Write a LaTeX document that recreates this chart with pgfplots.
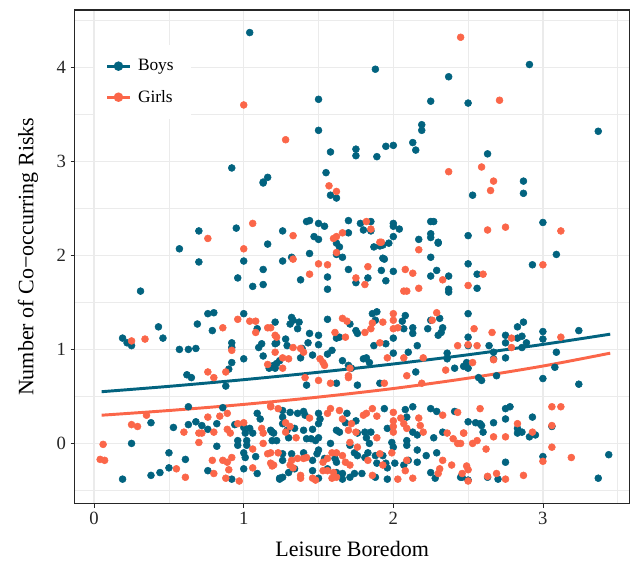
\documentclass[border=0pt]{standalone}
\usepackage{fontspec}
\setmainfont{Liberation Serif}
\usepackage{pgfplots}
\pgfplotsset{compat=1.18}
\definecolor{boys}{HTML}{02637F}
\definecolor{girls}{HTML}{FB6649}
\definecolor{gridc}{HTML}{EBEBEB}

\begin{document}
\begin{tikzpicture}[x=1pt,y=1pt]
\begin{axis}[
    scale only axis,
    width=416pt, height=370pt,
    xmin=-0.13, xmax=3.58,
    ymin=-0.64, ymax=4.61,
    xtick={0,1,2,3}, ytick={0,1,2,3,4},
    minor xtick={0.5,1.5,2.5,3.5},
    minor ytick={-0.5,0.5,1.5,2.5,3.5,4.5},
    grid=both,
    major grid style={gridc, line width=1pt},
    minor grid style={gridc, line width=0.6pt},
    axis line style={black!85, line width=0.8pt},
    tick align=outside, xtick pos=bottom, ytick pos=left,
    major tick length=3pt, minor tick length=0pt,
    tick style={black!85, line width=0.6pt},
    /pgf/number format/assume math mode=true,
    tick label style={font=\fontsize{14}{16}\selectfont, text=black!85},
    label style={font=\fontsize{16.5}{19}\selectfont},
    xlabel={Leisure Boredom},
    ylabel={Number of Co−occurring Risks},
    xlabel style={yshift=-5pt},
    ylabel style={yshift=7pt},
    legend style={at={(0.036,0.93)}, anchor=north west, draw=none, fill=white,
        font=\fontsize{13}{15}\selectfont, row sep=9pt, inner xsep=8pt, inner ysep=9pt,
        nodes={inner xsep=5pt}},
    legend cell align=left,
]
\addlegendimage{boys, line width=2.2pt, mark=*, mark size=2.4pt}
\addlegendentry{Boys}
\addlegendimage{girls, line width=2.2pt, mark=*, mark size=2.4pt}
\addlegendentry{Girls}

% boys
\addplot[only marks, mark=*, mark size=2.6pt, boys, forget plot] coordinates {
(1.04,4.37)(1.88,3.98)(2.91,4.03)(2.37,3.90)(1.50,3.66)(2.25,3.64)(2.50,3.62)(1.50,3.33)(2.19,3.39)(2.19,3.33)
(2.63,3.08)(1.75,3.13)(1.75,3.06)(1.58,3.10)(1.89,3.05)(1.95,3.16)(2.00,3.17)(2.13,3.20)(2.15,3.12)(3.37,3.32)
(0.92,2.93)(1.13,2.78)(1.16,2.83)(1.55,2.88)(1.58,2.64)(1.62,2.61)(2.87,2.79)(2.87,2.66)(2.53,2.64)
(0.57,2.07)(0.70,2.26)(0.70,1.93)(0.95,2.29)(1.00,1.94)(0.96,1.76)(1.06,1.67)(1.13,1.69)(1.13,1.85)(1.16,2.12)
(1.26,2.26)(1.26,1.94)(1.32,1.98)(1.38,1.74)(1.42,2.36)(1.44,2.37)(1.44,2.02)(1.50,2.34)(1.54,2.31)(1.47,2.20)
(1.50,2.17)(1.56,1.77)(1.56,1.64)(1.62,2.13)(1.64,2.09)(1.62,2.01)(1.66,1.98)(1.70,2.37)(1.70,2.24)(1.78,2.34)
(1.80,2.27)(1.85,2.36)(1.85,2.26)(1.70,1.85)(1.75,1.71)(1.83,1.76)(1.87,2.09)(1.91,2.10)(1.94,1.96)(1.92,1.84)
(1.95,1.73)(1.97,2.13)(2.00,2.20)(2.00,2.34)(2.00,2.31)(2.04,2.28)(2.00,1.83)(2.17,2.17)(2.25,2.36)(2.27,2.36)
(2.25,2.23)(2.25,2.19)(2.30,2.13)(2.25,1.98)(2.29,1.84)(2.25,1.78)(2.37,1.78)(2.37,1.64)(2.37,1.61)(2.50,2.21)
(2.50,1.91)(2.56,1.80)(2.56,1.65)(1.13,2.77)(1.93,2.11)(1.93,1.97)(2.93,1.90)(3.09,2.01)(3.00,2.35)(2.30,2.14)
(0.31,1.62)
(0.19,1.12)(0.22,1.07)(0.25,1.04)(0.43,1.24)(0.46,1.12)(0.57,1.00)(0.63,1.00)(0.68,1.01)(0.62,0.73)(0.65,0.70)
(0.76,1.38)(0.80,1.39)(0.69,1.27)(0.79,1.20)(0.92,1.07)(0.92,1.02)(0.92,0.86)(0.90,0.79)(0.88,0.61)(1.00,1.38)
(1.00,0.90)(1.10,1.02)(1.12,1.06)(1.13,0.93)(1.21,1.29)(1.21,1.06)(1.17,0.80)(1.20,0.83)(1.22,0.85)(1.09,1.22)
(1.32,1.34)(1.33,1.31)(1.31,1.27)(1.37,1.29)(1.36,1.22)(1.22,1.07)(1.28,1.11)(1.29,1.04)(1.24,0.88)(1.21,0.80)
(1.39,1.01)(1.38,0.91)(1.44,1.17)(1.50,1.15)(1.43,1.07)(1.50,1.05)(1.46,0.94)(1.56,1.32)(1.59,0.99)(1.56,0.95)
(1.62,1.12)(1.64,1.13)(1.66,0.88)(1.70,0.83)(1.72,0.80)(1.71,1.27)(1.75,1.20)(1.76,1.17)(1.80,0.90)(1.82,0.91)
(1.84,0.86)(1.86,1.38)(1.89,1.40)(1.88,1.31)(1.87,1.04)(1.95,1.06)(2.00,1.12)(2.00,0.96)(2.06,1.30)(2.08,1.36)
(2.07,1.22)(2.13,1.17)(2.13,1.23)(2.10,0.97)(2.15,0.76)(2.23,1.22)(2.25,1.31)(2.31,1.33)(2.33,1.23)(2.30,1.15)
(2.32,1.18)(2.36,0.96)(2.36,0.90)(2.41,0.80)(2.47,0.82)(2.16,1.04)(1.76,0.62)(1.91,0.64)(1.62,0.64)(1.42,0.62)
(2.50,1.38)(2.50,1.13)(2.50,1.04)(2.49,0.86)(2.50,0.80)(2.57,0.70)(2.59,0.67)(2.64,1.04)(2.67,0.97)(2.67,0.90)
(2.69,0.72)(2.75,1.15)(2.75,1.07)(2.75,0.91)(2.83,1.24)(2.87,1.29)(2.83,1.12)(2.86,1.14)(2.86,1.02)(2.89,1.07)
(3.00,1.19)(3.00,1.11)(3.00,0.69)(3.09,0.97)(3.08,0.81)(3.24,1.20)(3.24,0.63)
(0.63,0.39)(0.38,0.22)(0.25,0.00)(0.50,-0.10)(0.61,-0.17)(0.50,-0.26)(0.44,-0.31)(0.38,-0.34)(0.19,-0.38)(0.53,0.17)
(0.63,0.20)(0.68,0.23)(0.72,0.19)(0.76,0.15)(0.82,0.21)(0.86,0.38)(0.82,-0.03)(0.76,-0.29)(0.92,-0.38)(0.94,0.20)
(0.96,0.03)(1.00,0.17)(1.01,0.11)(1.04,0.16)(1.06,0.11)(1.02,0.03)(1.02,-0.02)(1.09,0.32)(1.11,0.26)(1.00,-0.10)
(1.01,-0.15)(1.00,-0.27)(1.08,-0.14)(1.09,-0.32)(1.19,0.12)(1.19,0.03)(1.24,-0.38)(0.96,-0.02)
(1.26,0.35)(1.26,0.28)(1.26,0.21)(1.31,0.33)(1.36,0.32)(1.40,0.34)(1.41,0.30)(1.29,0.14)(1.34,0.16)(1.30,0.06)
(1.20,0.11)(1.22,0.03)(1.40,0.14)(1.46,0.15)(1.42,0.05)(1.45,0.05)(1.50,0.06)(1.48,0.03)(1.50,0.32)(1.51,0.26)
(1.50,0.21)(1.69,0.32)(1.68,0.22)(1.75,0.24)(1.81,0.12)(1.85,0.12)(1.82,0.06)(1.94,0.37)(1.96,0.16)(1.99,0.01)
(2.00,-0.04)(2.08,0.36)(2.09,0.28)(2.13,0.39)(2.13,0.12)(2.16,0.09)(2.09,0.03)(2.09,-0.02)(2.25,0.37)(2.29,0.34)
(2.33,0.12)(2.41,0.34)(2.27,0.06)(1.18,0.14)(1.26,-0.11)(1.32,-0.11)(1.26,-0.18)(1.40,-0.10)(1.49,-0.11)(1.50,-0.07)
(1.46,-0.18)(1.54,-0.16)(1.61,-0.16)(1.62,-0.20)(1.34,-0.27)(1.30,-0.31)(1.26,-0.36)(1.24,-0.37)(1.46,-0.29)(1.50,-0.37)
(1.56,-0.27)(1.62,-0.31)(1.66,-0.38)(1.71,-0.36)(1.74,-0.10)(1.76,-0.13)(1.81,-0.15)(1.83,-0.10)(1.84,0.00)(1.88,-0.13)
(1.89,-0.21)(1.93,-0.13)(1.95,-0.21)(1.96,-0.26)(1.96,-0.38)(1.88,-0.36)(2.07,-0.23)(2.01,-0.21)(2.10,-0.18)(2.16,-0.07)
(2.22,-0.13)(2.29,-0.10)(2.25,-0.31)(2.28,-0.37)(2.16,-0.20)(2.45,-0.36)(2.50,-0.39)(1.74,-0.32)(1.79,-0.32)(1.66,-0.32)
(1.76,0.11)(1.62,0.14)(1.64,0.12)(1.58,0.00)(1.71,-0.02)
(2.50,0.23)(2.55,0.22)(2.58,0.21)(2.60,0.12)(2.59,0.19)(2.67,0.22)(2.75,0.37)(2.78,0.39)(2.75,0.26)(2.83,0.16)
(2.86,0.12)(2.83,0.11)(2.91,0.07)(2.95,0.09)(2.93,0.28)(3.06,0.18)(3.00,-0.14)(2.75,-0.20)(2.63,-0.36)(2.70,-0.38)
(2.46,-0.36)(3.44,-0.12)(3.37,-0.37)
};

% girls
\addplot[only marks, mark=*, mark size=2.6pt, girls, forget plot] coordinates {
(2.45,4.32)(2.71,3.65)(2.37,2.89)(2.59,2.94)(2.67,2.79)(2.65,2.69)(1.00,3.60)(1.28,3.23)(1.57,2.74)(1.62,2.68)
(0.76,2.18)(1.06,2.34)(1.00,2.07)(1.33,2.21)(1.33,1.96)(1.44,1.80)(1.50,1.91)(1.56,1.90)(1.60,2.18)(1.62,2.20)
(1.66,2.24)(1.62,2.03)(1.75,1.76)(1.81,1.69)(1.82,2.36)(1.85,2.28)(1.83,1.88)(1.91,2.14)(2.08,1.85)(2.13,1.81)
(2.07,1.62)(2.09,1.62)(2.17,1.65)(2.17,2.06)(2.33,1.74)(2.50,1.68)(2.60,1.80)(3.00,1.90)(2.63,2.27)(2.75,2.30)
(3.12,2.26)(1.92,2.14)
(0.25,1.09)(0.34,1.11)(0.76,0.76)(0.80,0.70)(0.88,0.76)(0.86,1.23)(0.96,1.32)(1.04,1.30)(1.08,1.30)(1.08,1.18)
(1.16,1.23)(1.22,1.13)(1.21,0.97)(1.16,0.84)(0.92,0.99)(1.21,1.15)(1.18,1.23)(1.26,0.91)(1.30,0.90)(1.33,1.02)
(1.38,1.01)(1.40,0.97)(1.41,0.70)(1.50,0.67)(1.53,0.86)(1.54,0.83)(1.61,1.18)(1.68,1.13)(1.69,1.30)(1.66,1.33)
(1.70,0.70)(1.81,1.18)(1.85,1.22)(1.86,1.28)(1.93,1.29)(2.00,1.38)(2.00,1.31)(2.00,1.22)(2.03,1.23)(2.07,0.91)
(2.09,0.72)(1.91,1.07)(1.96,0.91)(1.94,0.64)(2.29,1.39)(2.26,1.31)(2.20,0.91)(2.43,1.04)(2.35,0.78)(2.19,0.64)
(1.71,0.80)(1.70,0.72)(1.58,0.64)(1.51,0.90)(1.26,0.80)(2.54,1.22)(2.50,1.05)(2.56,1.04)(2.53,0.86)(2.66,1.18)
(2.67,0.89)(2.79,1.12)(2.79,1.02)(3.12,1.13)
(0.35,0.30)(0.25,0.20)(0.29,0.18)(0.06,-0.01)(0.04,-0.17)(0.07,-0.18)(0.55,-0.27)(0.61,-0.36)(0.60,0.12)(0.70,0.11)
(0.72,0.11)(0.70,0.01)(0.76,0.28)(0.80,0.12)(0.84,0.29)(0.89,0.32)(0.89,0.15)(0.91,0.11)(0.79,-0.18)(0.86,-0.18)
(0.89,-0.20)(0.90,-0.28)(0.80,-0.32)(0.88,-0.37)(0.97,-0.40)(0.92,-0.15)(0.96,0.21)(1.00,0.22)(1.06,-0.26)(1.06,-0.06)
(1.12,0.16)(1.13,0.11)(1.13,0.00)(1.16,-0.11)(1.18,-0.10)(1.19,-0.24)(1.18,0.39)
(1.18,0.40)(1.23,0.37)(1.28,0.22)(1.31,0.18)(1.23,-0.10)(1.18,-0.21)(1.28,0.12)(1.35,0.06)(1.44,0.27)(1.56,0.32)
(1.58,0.37)(1.64,0.35)(1.66,0.26)(1.72,0.21)(1.70,0.14)(1.75,0.12)(1.80,0.30)(1.82,0.32)(1.86,0.37)(1.89,0.29)
(1.89,0.06)(2.00,0.33)(2.00,0.24)(2.00,0.18)(2.00,0.12)(2.05,0.27)(2.07,0.21)(2.09,0.16)(2.17,0.27)(2.18,0.19)
(2.20,0.12)(2.33,0.30)(2.43,0.33)(2.36,0.11)(2.40,0.05)(2.47,0.11)(2.43,0.00)(1.71,0.01)(1.76,-0.04)(1.32,-0.18)
(1.36,-0.16)(1.40,-0.16)(1.42,-0.15)(1.53,-0.20)(1.56,-0.16)(1.59,-0.10)(1.62,-0.10)(1.66,-0.13)(1.68,-0.20)(1.53,-0.29)
(1.56,-0.29)(1.60,-0.31)(1.62,-0.36)(1.59,-0.37)(1.38,-0.37)(1.38,-0.34)(1.46,-0.37)(1.48,-0.39)(1.86,-0.34)(2.03,-0.38)
(2.08,-0.29)(2.09,-0.18)(2.13,-0.37)(2.31,-0.27)(2.33,-0.18)(2.30,-0.32)(1.91,-0.11)(1.93,-0.23)(1.99,-0.10)(1.83,-0.18)
(1.71,-0.23)(1.20,-0.23)(1.31,-0.23)(1.33,-0.26)(2.39,-0.23)(2.46,-0.32)
(2.58,0.37)(2.47,0.11)(2.53,0.00)(2.56,0.03)(2.62,-0.06)(2.67,0.07)(2.75,0.07)(2.83,0.21)(2.93,0.12)(3.06,0.39)
(3.12,0.39)(3.06,0.19)(3.06,-0.04)(3.00,-0.19)(3.19,-0.15)(2.49,-0.24)(2.50,-0.28)(2.50,-0.40)(2.63,-0.35)(2.69,-0.32)
(2.75,-0.38)(2.87,-0.34)(2.45,0.00)
};

% fitted curves
\addplot[boys, line width=2.2pt, smooth, forget plot] coordinates {
(0.05,0.550)(0.5,0.607)(1.0,0.678)(1.5,0.757)(2.0,0.845)(2.5,0.943)(3.0,1.053)(3.45,1.162)};
\addplot[girls, line width=2.2pt, smooth, forget plot] coordinates {
(0.05,0.300)(0.5,0.350)(1.0,0.415)(1.5,0.493)(2.0,0.584)(2.5,0.694)(3.0,0.823)(3.45,0.960)};
\end{axis}
\path (current axis.south west) ++(-56pt,-46.5pt) (current axis.north east) ++(4pt,7.5pt);
\end{tikzpicture}
\end{document}
